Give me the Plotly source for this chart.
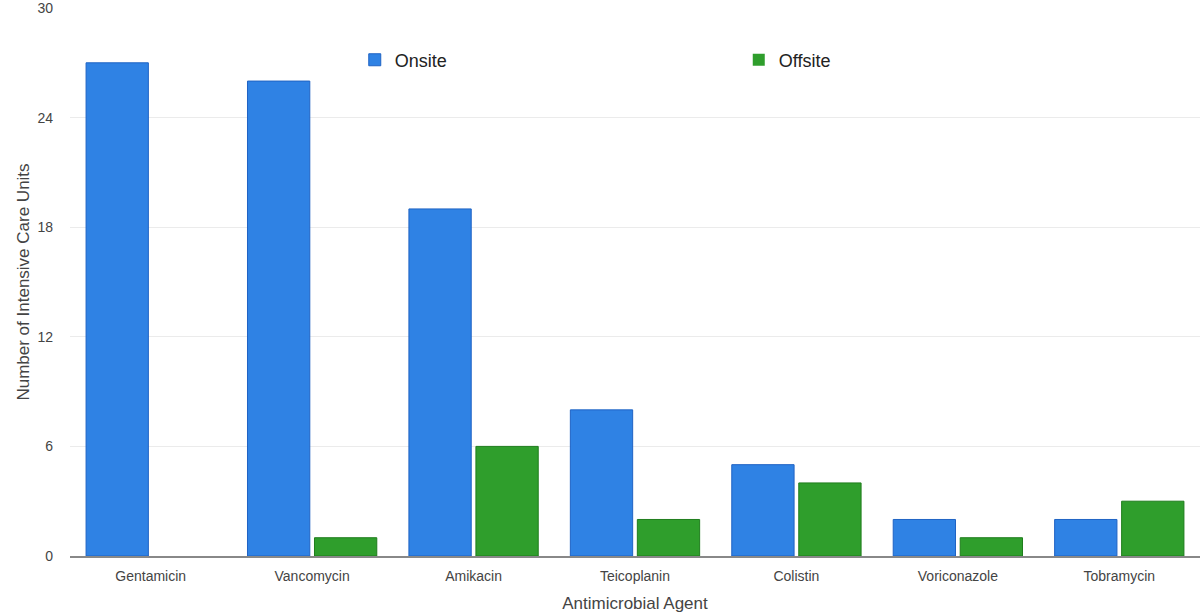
import plotly.graph_objects as go

agents = ['Gentamicin', 'Vancomycin', 'Amikacin', 'Teicoplanin', 'Colistin', 'Voriconazole', 'Tobramycin']
onsite = [27, 26, 19, 8, 5, 2, 2]
offsite = [0, 1, 6, 2, 4, 1, 3]
y_ticks = [0, 6, 12, 18, 24, 30]

fig = go.Figure()
fig.add_trace(go.Bar(x=agents, y=onsite, name='Onsite',
                     marker=dict(color='#2f82e4',
                                 line=dict(color='#1f63c4', width=[1 if v else 0 for v in onsite]))))
fig.add_trace(go.Bar(x=agents, y=offsite, name='Offsite',
                     marker=dict(color='#2f9e2c',
                                 line=dict(color='#1f7d1c', width=[1 if v else 0 for v in offsite]))))

fig.update_layout(
    width=1200, height=615,
    margin=dict(l=70, r=0, t=8, b=59, autoexpand=False),
    plot_bgcolor='white', paper_bgcolor='white',
    font=dict(family='Liberation Sans, Arial, sans-serif', size=14, color='#444'),
    barmode='group', bargap=0.17, bargroupgap=0.07,
    legend=dict(orientation='h', x=0.252, y=0.905, xanchor='left', yanchor='middle',
                entrywidth=339, entrywidthmode='pixels',
                font=dict(size=18, color='#222'), bgcolor='rgba(0,0,0,0)'),
    xaxis=dict(title=dict(text='Antimicrobial Agent', standoff=15),
               showline=True, linecolor='#888', linewidth=1.5, ticks='', ticklabelstandoff=6),
    yaxis=dict(title=dict(text='Number of Intensive Care Units', standoff=3),
               range=[0, 30], tickvals=y_ticks, showgrid=True, gridcolor='#ebebeb',
               zeroline=False, ticks='', ticklabelstandoff=16, ticklabeloverflow='allow'),
)

# page body has a default 8px margin; drop it so the figure sits at the window origin
fig.write_html("out.html", config={'displayModeBar': False},
               post_script="document.body.style.margin='0';")
